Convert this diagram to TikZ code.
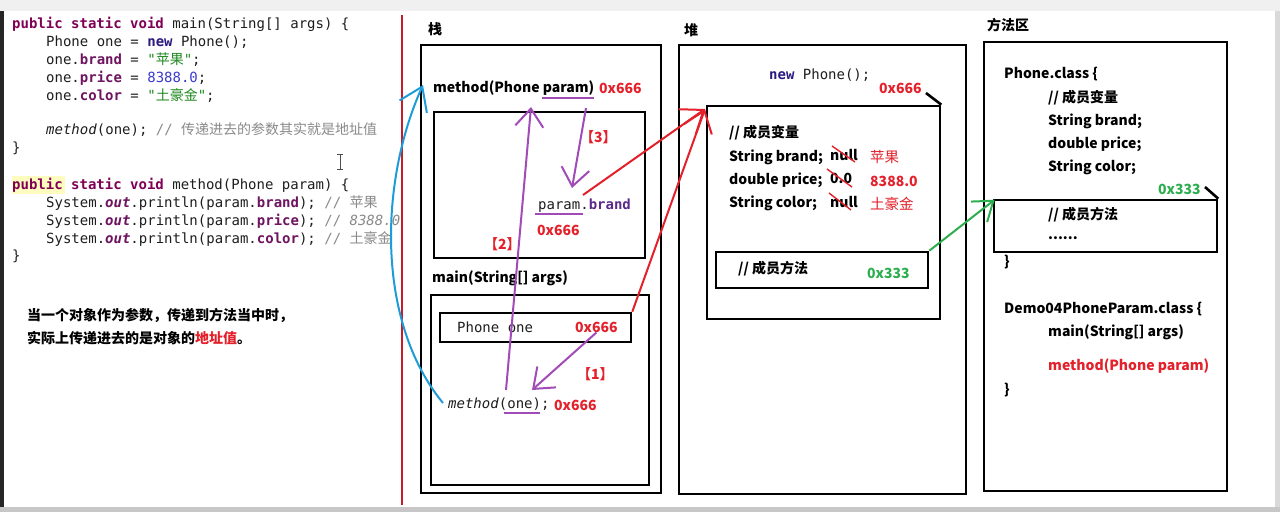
\documentclass[tikz,border=0pt]{standalone}
\usepackage{fontspec}
\setmonofont{DejaVu Sans Mono}
\newfontfamily\cjk{Noto Sans CJK SC}
\usetikzlibrary{arrows.meta}

\definecolor{codeink}{HTML}{1E1E1E}
\definecolor{kwpurple}{HTML}{7F0055}
\definecolor{fieldpurple}{HTML}{6E1460}
\definecolor{strgreen}{HTML}{1F8A1F}
\definecolor{numblue}{HTML}{3A3ACF}
\definecolor{cmtgray}{HTML}{8A8A8A}
\definecolor{newnavy}{HTML}{2B1B80}
\definecolor{stackfield}{HTML}{5A2A8A}
\definecolor{addrred}{HTML}{E4202A}
\definecolor{callblue}{HTML}{1E9CD7}
\definecolor{refpurple}{HTML}{A24BB8}
\definecolor{methgreen}{HTML}{2DAE4E}
\definecolor{divred}{HTML}{C41E2A}

\newcommand{\zh}[1]{{\cjk #1}}
\newcommand{\kw}[1]{\textcolor{kwpurple}{\bfseries #1}}
\newcommand{\fld}[1]{\textcolor{fieldpurple}{\bfseries #1}}
\newcommand{\sfld}[1]{\textcolor{fieldpurple}{\bfseries\itshape #1}}
\newcommand{\cmt}[1]{\textcolor{cmtgray}{#1}}

\begin{document}
\begin{tikzpicture}[x=1pt,y=-1pt,
    code/.style={anchor=west,inner sep=0pt,text=codeink,font=\ttfamily\fontsize{14}{16}\selectfont},
    lbl/.style={anchor=west,inner sep=0pt,text=black,font=\cjk\bfseries\fontsize{14}{16}\selectfont},
    note/.style={lbl,font=\cjk\bfseries\fontsize{14}{16}\selectfont},
    addr/.style={lbl,text=addrred},
    val/.style={anchor=west,inner sep=0pt,text=addrred,font=\cjk\fontsize{14.5}{17}\selectfont},
    frame/.style={draw,line width=2.6pt,inner sep=0pt},
    tick/.style={line width=2.6pt},
    strike/.style={draw=addrred,line width=1.4pt},
    uline/.style={draw=refpurple,line width=2pt},
    callline/.style={draw=callblue,line width=2pt,-{Straight Barb[length=22pt,width=30pt]}},
    refline/.style={draw=refpurple,line width=2pt,-{Straight Barb[length=18pt,width=28pt]}},
    heapline/.style={draw=addrred,line width=2pt,-{Straight Barb[length=20pt,width=30pt]}},
    methline/.style={draw=methgreen,line width=2pt,-{Straight Barb[length=18pt,width=26pt]}}]

    % screen
    \useasboundingbox (0,0) rectangle (1280,512);
    \fill[white] (0,0) rectangle (1280,512);
    \fill[black!6] (0,0) rectangle (1280,11);
    \fill[black!22] (0,507) rectangle (1280,512);
    \fill[black!85] (0,11) rectangle (4,507);
    \fill[black!15] (1275,11) rectangle (1280,507);
    \fill[yellow!25!white] (12,176) rectangle (65,194); % occurrence mark

    % source code
    \node[code] (l1) at (12,24) {\kw{public static void} main(String[] args) \{};
    \node[code] (l2) at (46,42) {Phone one = \textcolor{newnavy}{\bfseries new} Phone();};
    \node[code] (l3) at (46,60) {one.\fld{brand} = \textcolor{strgreen}{"\zh{苹果}"};};
    \node[code] (l4) at (46,78) {one.\fld{price} = \textcolor{numblue}{8388.0};};
    \node[code] (l5) at (46,96) {one.\fld{color} = \textcolor{strgreen}{"\zh{土豪金}"};};
    \node[code] (l7) at (46,130) {\textit{method}(one); \cmt{// \zh{传递进去的参数其实就是地址值}}};
    \node[code] (l8) at (12,148) {\}};
    \node[code] (l10) at (12,185) {\kw{public static void} method(Phone param) \{};
    \node[code] (l11) at (46,203) {System.\sfld{out}.println(param.\fld{brand}); \cmt{// \zh{苹果}}};
    \node[code] (l12) at (46,221) {System.\sfld{out}.println(param.\fld{price}); \cmt{// \textit{8388.0}}};
    \node[code] (l13) at (46,239) {System.\sfld{out}.println(param.\fld{color}); \cmt{// \zh{土豪金}}};
    \node[code] (l14) at (12,256) {\}};
    \draw[black!70,line width=0.8pt] (337,154) -- (343,154) (340,154) -- (340,169) (337,169) -- (343,169); % cursor

    % note
    \node[note] (note1) at (27,315) {当一个对象作为参数，传递到方法当中时，};
    \node[note] (note2) at (27,338) {实际上传递进去的是对象的\textcolor{addrred}{地址值}。};

    \draw[divred,line width=2pt] (402,15) -- (402,505); % divider

    % stack
    \node[lbl] (stacklbl) at (428,29) {栈};
    \node[frame,minimum width=240pt,minimum height=448pt] (stack) at (541,269) {};
    \node[lbl] (mtitle) at (433,88) {method(Phone param)};
    \node[addr] (mtaddr) at (599,88) {0x666};
    \node[frame,minimum width=211pt,minimum height=146pt] (mframe) at (539.5,185) {};
    \node[code] (pbrand) at (538,206) {param.\textcolor{stackfield}{\bfseries brand}};
    \node[addr] (pbaddr) at (537,230) {0x666};
    \node[addr] (step3) at (580,137) {【3】};
    \node[addr] (step2) at (484,244) {【2】};
    \node[lbl] (mainlbl) at (432,278) {main(String[] args)};
    \node[frame,minimum width=218pt,minimum height=190pt] (mainframe) at (540,390) {};
    \node[frame,minimum width=191pt,minimum height=29pt] (phonebox) at (535.5,327.5) {};
    \node[code] (phoneone) at (457,327) {Phone one};
    \node[addr] (oneaddr) at (575,327) {0x666};
    \node[code] (callone) at (448,404) {\textit{method}(one);};
    \node[addr] (calladdr) at (554,405) {0x666};
    \node[addr] (step1) at (577,374) {【1】};

    % underlines
    \draw[uline] (542,98) -- (594,98); % param
    \draw[uline] (535,214) -- (583,214); % param.brand
    \draw[uline] (504,413) -- (540,413); % one

    % heap
    \node[lbl] (heaplbl) at (684,30) {堆};
    \node[frame,minimum width=287pt,minimum height=449pt] (heap) at (822.5,269.5) {};
    \node[code] (newphone) at (769,75) {\textcolor{newnavy}{\bfseries new} Phone();};
    \node[addr] (objaddr) at (879,88) {0x666};
    \node[frame,minimum width=233pt,minimum height=213pt] (obj) at (823.5,212.5) {};
    \draw[tick] (926,93) -- (obj.north east);
    \node[lbl] (objvars) at (729,133) {// 成员变量};
    \node[lbl] (fbrand) at (729,157) {String brand;};
    \node[lbl] (fprice) at (729,180) {double price;};
    \node[lbl] (fcolor) at (729,203) {String color;};
    \node[lbl] (nbrand) at (830,155) {null};
    \node[lbl] (nprice) at (830,178) {0.0};
    \node[lbl] (ncolor) at (830,202) {null};
    \node[val] (vbrand) at (870,157) {苹果};
    \node[addr] (vprice) at (870,181) {8388.0};
    \node[val] (vcolor) at (870,204) {土豪金};
    \draw[strike] (832,146) -- (855,162); % null
    \draw[strike] (827,169) -- (852,187); % 0.0
    \draw[strike] (829,193) -- (851,210); % null
    \node[frame,minimum width=212pt,minimum height=36pt] (membox) at (822,270) {};
    \node[lbl] (memlbl) at (738,269) {// 成员方法};
    \node[lbl,text=methgreen] (memaddr) at (867,273) {0x333};

    % method area
    \node[lbl] (arealbl) at (987,25) {方法区};
    \node[frame,minimum width=243pt,minimum height=449pt] (area) at (1105.5,266.5) {};
    \node[lbl] (phcls) at (1004,74) {Phone.class \{};
    \node[lbl] (clsvars) at (1048,98) {// 成员变量};
    \node[lbl] (cbrand) at (1048,121) {String brand;};
    \node[lbl] (cprice) at (1048,144) {double price;};
    \node[lbl] (ccolor) at (1048,167) {String color;};
    \node[lbl,text=methgreen] (clsaddr) at (1158,189) {0x333};
    \node[frame,minimum width=223pt,minimum height=52pt] (clsmeth) at (1105.5,226) {};
    \draw[tick] (1205,187) -- (clsmeth.north east);
    \node[lbl] (clsmem) at (1048,215) {// 成员方法};
    \node[lbl] (clsdots) at (1048,238) {......};
    \node[lbl] (clsend) at (1004,262) {\}};
    \node[lbl] (democls) at (1004,309) {Demo04PhoneParam.class \{};
    \node[lbl] (demomain) at (1048,332) {main(String[] args)};
    \node[lbl,text=addrred] (demometh) at (1048,366) {method(Phone param)};
    \node[lbl] (demoend) at (1004,390) {\}};

    % arrow ends
    \coordinate (callS) at (443,403);
    \coordinate (callT) at (423,85);
    \coordinate (oneS) at (506,390);
    \coordinate (paramT) at (531,107);
    \coordinate (paramS) at (586,108);
    \coordinate (brandT) at (572,188);
    \coordinate (brandS) at (583,195);
    \coordinate (heapT) at (705,109);
    \coordinate (oneT) at (532,390);

    % arrows
    \draw[callline] (callS) .. controls (375,320) and (380,180) .. (callT); % call -> method frame
    \draw[refline] (oneaddr.south) to (oneT); % [1]
    \draw[refline] (oneS) to (paramT); % [2]
    \draw[refline] (paramS) to (brandT); % [3]
    \draw[heapline] (brandS) to (heapT); % param -> object
    \draw[heapline] (phonebox.north east) to (heapT); % one -> object
    \draw[methline] (membox.north east) to ([shift={(2,1)}]clsmeth.north west); % method -> class

\end{tikzpicture}
\end{document}
